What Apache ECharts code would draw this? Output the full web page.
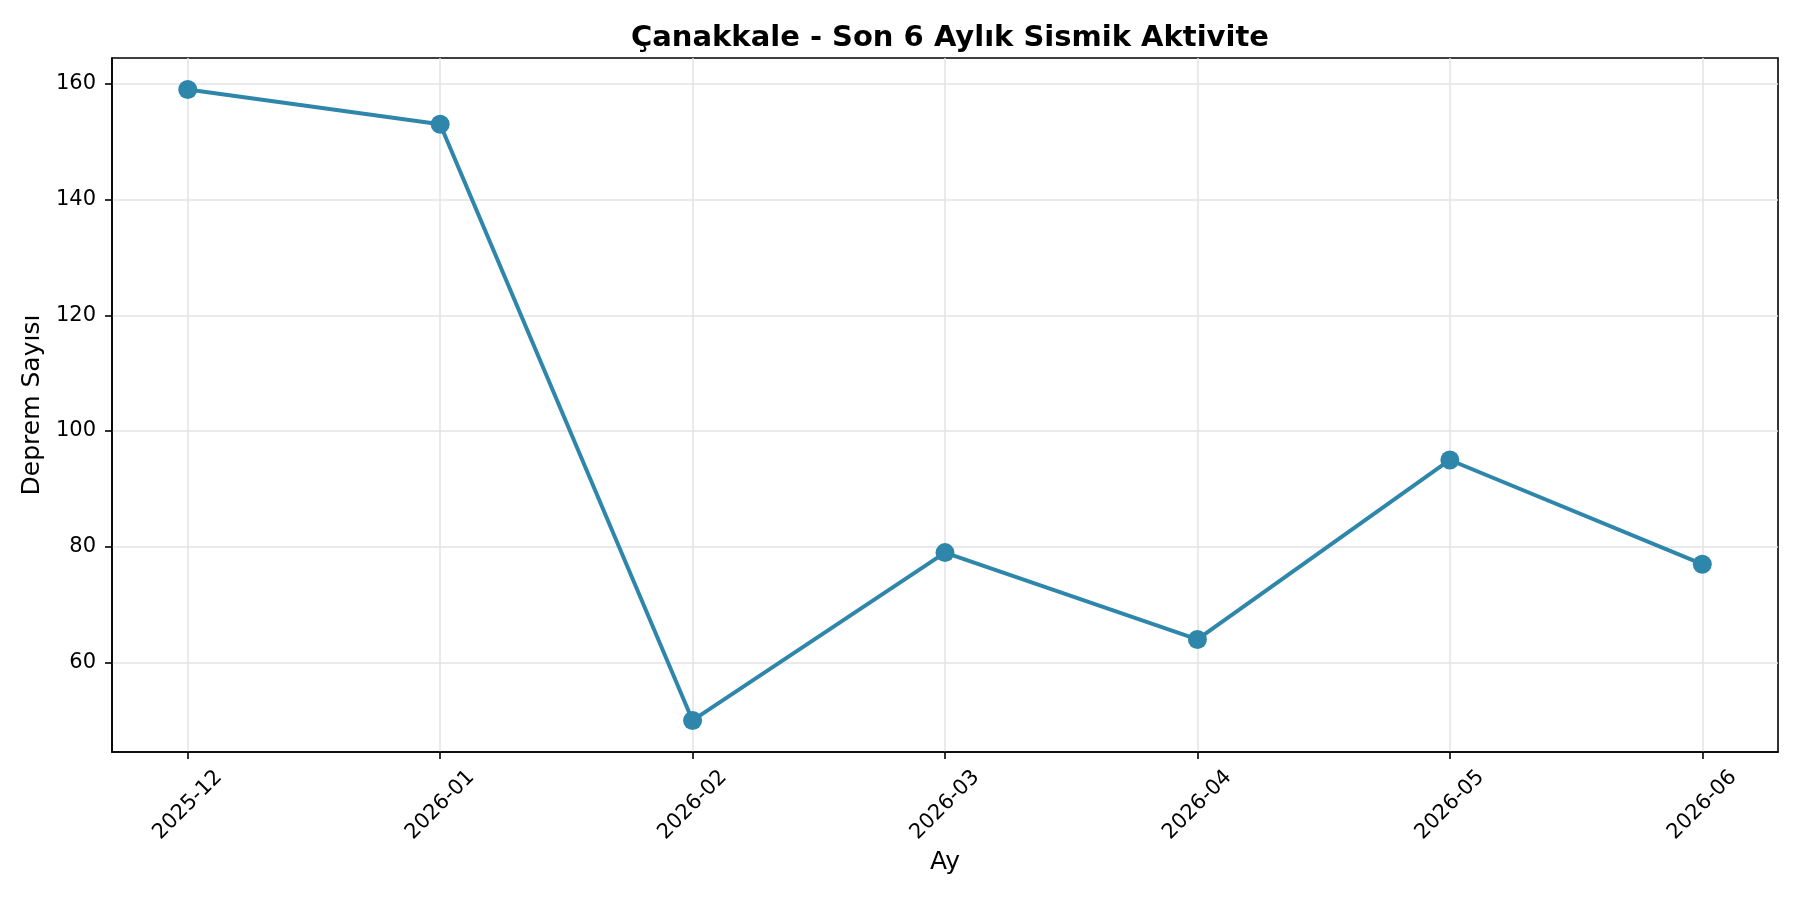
<!DOCTYPE html>
<html>
<head>
<meta charset="utf-8">
<script src="https://cdn.jsdelivr.net/npm/echarts@6/dist/echarts.min.js"></script>
<style>
html,body{margin:0;padding:0;background:#fff;}
#chart{width:1800px;height:900px;}
</style>
</head>
<body>
<div id="chart"></div>
<script>
const months = ['2025-12','2026-01','2026-02','2026-03','2026-04','2026-05','2026-06'];
const quakeCounts = [159, 153, 50, 79, 64, 95, 77];
const yTicks = [60, 80, 100, 120, 140, 160];

const titleText = 'Çanakkale - Son 6 Aylık Sismik Aktivite';
const xName = 'Ay';
const yName = 'Deprem Sayısı';

const idx = months.map((m, i) => i);
const points = quakeCounts.map((v, i) => [i, v]);

const dMin = Math.min(...quakeCounts), dMax = Math.max(...quakeCounts);
const pad = (dMax - dMin) * 0.05;
const xPad = (months.length - 1) * 0.05;

const FONT = 'DejaVu Sans';
const chart = echarts.init(document.getElementById('chart'), null, {renderer: 'canvas'});
chart.setOption({
  animation: false,
  backgroundColor: '#ffffff',
  textStyle: {fontFamily: FONT},
  title: {
    text: titleText,
    left: 945,
    textAlign: 'center',
    top: 19,
    textStyle: {fontFamily: FONT, fontWeight: 'bold', fontSize: 29, color: '#000'}
  },
  grid: {
    left: 112, right: 22, top: 58, bottom: 148,
    show: true, borderColor: '#000', borderWidth: 1.6, backgroundColor: 'transparent'
  },
  xAxis: {
    type: 'value',
    min: -xPad, max: months.length - 1 + xPad,
    name: xName, nameLocation: 'middle', nameGap: 96,
    nameTextStyle: {fontFamily: FONT, fontSize: 25, color: '#000'},
    axisLine: {show: true, onZero: false, lineStyle: {color: '#000', width: 1.6}},
    axisTick: {show: true, inside: false, length: 7, lineStyle: {color: '#000', width: 1.6}, customValues: idx},
    axisLabel: {
      customValues: idx,
      formatter: v => months[Math.round(v)],
      rotate: 45, align: 'center', verticalAlign: 'middle', margin: 53,
      fontFamily: FONT, fontSize: 21, color: '#000'
    },
    splitLine: {show: true, lineStyle: {color: '#e3e3e3', width: 1.5}}
  },
  yAxis: {
    type: 'value',
    min: dMin - pad, max: dMax + pad,
    name: yName, nameLocation: 'middle', nameGap: 64,
    nameTextStyle: {fontFamily: FONT, fontSize: 25, color: '#000'},
    axisLine: {show: true, onZero: false, lineStyle: {color: '#000', width: 1.6}},
    axisTick: {show: true, inside: false, length: 7, lineStyle: {color: '#000', width: 1.6}, customValues: yTicks},
    axisLabel: {customValues: yTicks, margin: 16, fontFamily: FONT, fontSize: 21, color: '#000'},
    splitLine: {show: true, lineStyle: {color: '#e3e3e3', width: 1.5}}
  },
  series: [{
    type: 'line',
    data: points,
    symbol: 'circle',
    symbolSize: 19,
    showSymbol: true,
    lineStyle: {color: '#2E86AB', width: 4},
    itemStyle: {color: '#2E86AB', borderWidth: 0},
    z: 5
  }]
});
</script>
</body>
</html>
